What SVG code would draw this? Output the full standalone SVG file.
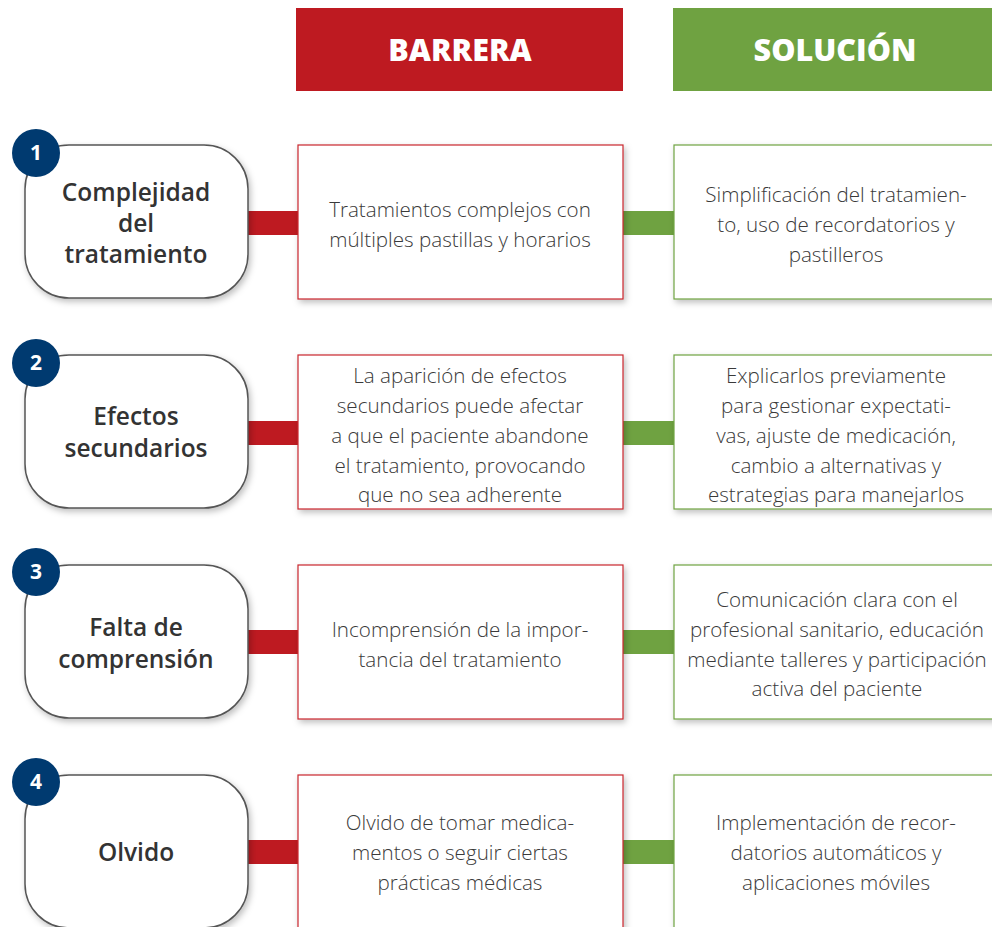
<svg xmlns="http://www.w3.org/2000/svg" width="992" height="927" viewBox="0 0 992 927">
<defs>
<filter id="sh" x="-10%" y="-10%" width="130%" height="130%">
<feDropShadow dx="2" dy="3" stdDeviation="3" flood-color="#000" flood-opacity="0.25"/>
</filter>
</defs>
<style>
.lab{fill:#fff;stroke:#555;stroke-width:1.5;filter:url(#sh)}
.bar{fill:#fff;stroke:#C9262D;stroke-width:1.2;filter:url(#sh)}
.sol{fill:#fff;stroke:#6FA241;stroke-width:1.2;filter:url(#sh)}
.badge{fill:#003A70}
.num{font-family:"Open Sans","Liberation Sans",sans-serif;font-weight:700;font-size:21px;fill:#fff;text-anchor:middle}
.lt{font-family:"Open Sans","Liberation Sans",sans-serif;font-weight:600;font-size:24.5px;fill:#333;text-anchor:middle}
.bt{font-family:"Open Sans","Liberation Sans",sans-serif;font-weight:300;font-size:20.6px;fill:#3a3a3a;text-anchor:middle}
.hd{font-family:"Open Sans","Liberation Sans",sans-serif;font-weight:800;font-size:30.5px;fill:#fff;text-anchor:middle}
.cr{fill:#BE1A21}
.cg{fill:#6FA241}
</style>
<g id="header-barrera"><rect x="296" y="8" width="327" height="83" fill="#BE1A21"/><text class="hd" x="460" y="61">BARRERA</text></g>
<g id="header-solucion"><rect x="673" y="8" width="330" height="83" fill="#6FA241"/><text class="hd" x="835" y="61">SOLUCIÓN</text></g>
<g id="connectors">
<rect class="cr" x="247" y="211" width="51" height="24"/>
<rect class="cg" x="623" y="211" width="51" height="24"/>
<rect class="cr" x="247" y="421" width="51" height="24"/>
<rect class="cg" x="623" y="421" width="51" height="24"/>
<rect class="cr" x="247" y="630" width="51" height="24"/>
<rect class="cg" x="623" y="630" width="51" height="24"/>
<rect class="cr" x="247" y="840" width="51" height="24"/>
<rect class="cg" x="623" y="840" width="51" height="24"/>
</g>
<g id="label1"><rect class="lab" x="25" y="145" width="223" height="153" rx="44"/><circle class="badge" cx="36" cy="153" r="24"/><text class="num" x="36" y="160">1</text>
<text class="lt" x="136" y="201">Complejidad</text><text class="lt" x="136" y="232">del</text><text class="lt" x="136" y="263">tratamiento</text></g>
<g id="barrier1"><rect class="bar" x="298" y="145" width="325" height="154"/><text class="bt" x="460" y="217">Tratamientos complejos con</text><text class="bt" x="460" y="247">múltiples pastillas y horarios</text></g>
<g id="solution1"><rect class="sol" x="674" y="145" width="330" height="154"/><text class="bt" x="836" y="202">Simplificación del tratamien-</text><text class="bt" x="836" y="232">to, uso de recordatorios y</text><text class="bt" x="836" y="262">pastilleros</text></g>

<g id="label2"><rect class="lab" x="25" y="355" width="223" height="153" rx="44"/><circle class="badge" cx="36" cy="363" r="24"/><text class="num" x="36" y="370">2</text>
<text class="lt" x="136" y="425">Efectos</text><text class="lt" x="136" y="457">secundarios</text></g>
<g id="barrier2"><rect class="bar" x="298" y="355" width="325" height="154"/><text class="bt" x="460" y="383">La aparición de efectos</text><text class="bt" x="460" y="413">secundarios puede afectar</text><text class="bt" x="460" y="443">a que el paciente abandone</text><text class="bt" x="460" y="473">el tratamiento, provocando</text><text class="bt" x="460" y="502">que no sea adherente</text></g>
<g id="solution2"><rect class="sol" x="674" y="355" width="330" height="154"/><text class="bt" x="836" y="383">Explicarlos previamente</text><text class="bt" x="836" y="413">para gestionar expectati-</text><text class="bt" x="836" y="443">vas, ajuste de medicación,</text><text class="bt" x="836" y="473">cambio a alternativas y</text><text class="bt" x="836" y="502">estrategias para manejarlos</text></g>

<g id="label3"><rect class="lab" x="25" y="565" width="223" height="153" rx="44"/><circle class="badge" cx="36" cy="572" r="24"/><text class="num" x="36" y="579">3</text>
<text class="lt" x="136" y="636">Falta de</text><text class="lt" x="136" y="668">comprensión</text></g>
<g id="barrier3"><rect class="bar" x="298" y="565" width="325" height="154"/><text class="bt" x="460" y="637">Incomprensión de la impor-</text><text class="bt" x="460" y="667">tancia del tratamiento</text></g>
<g id="solution3"><rect class="sol" x="674" y="565" width="330" height="154"/><text class="bt" x="837" y="607">Comunicación clara con el</text><text class="bt" x="837" y="637">profesional sanitario, educación</text><text class="bt" x="837" y="667">mediante talleres y participación</text><text class="bt" x="837" y="696">activa del paciente</text></g>

<g id="label4"><rect class="lab" x="25" y="775" width="223" height="153" rx="44"/><circle class="badge" cx="36" cy="782" r="24"/><text class="num" x="36" y="789">4</text>
<text class="lt" x="136" y="861">Olvido</text></g>
<g id="barrier4"><rect class="bar" x="298" y="775" width="325" height="160"/><text class="bt" x="460" y="830">Olvido de tomar medica-</text><text class="bt" x="460" y="860">mentos o seguir ciertas</text><text class="bt" x="460" y="890">prácticas médicas</text></g>
<g id="solution4"><rect class="sol" x="674" y="775" width="330" height="160"/><text class="bt" x="836" y="830">Implementación de recor-</text><text class="bt" x="836" y="860">datorios automáticos y</text><text class="bt" x="836" y="890">aplicaciones móviles</text></g>
</svg>
